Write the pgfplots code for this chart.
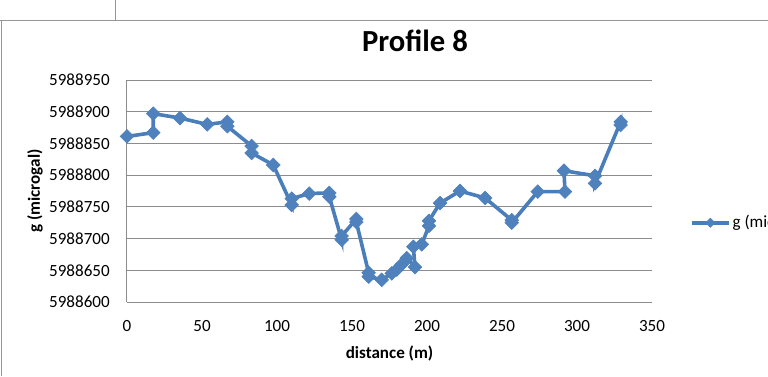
\documentclass[border=0pt]{standalone}
\usepackage{fontspec}
\setmainfont{Carlito}
\usepackage{pgfplots}
\usepackage{pgfplotstable}
\pgfplotsset{compat=1.18}
\definecolor{lineblue}{RGB}{74,126,187}
\definecolor{markblue}{RGB}{79,129,189}
\definecolor{gridgray}{RGB}{140,140,140}
\definecolor{framegray}{RGB}{150,150,150}

\pgfplotstableread{
d g
0 5988861
17.5 5988867
17.5 5988897
35.3 5988890
53.5 5988880
66.9 5988884
66.9 5988877
83.1 5988846
83.1 5988835
97.5 5988816
109.8 5988753
109.8 5988763
121.5 5988771
134.9 5988772
134.9 5988766
143.1 5988698
143.1 5988704
152.9 5988731
152.9 5988726
161.1 5988646
161.1 5988640
169.8 5988635
176.5 5988645
179.8 5988651
183.1 5988659
186.5 5988669
192.0 5988655
190.9 5988687
196.5 5988691
201.3 5988720
201.3 5988728
208.7 5988756
222.0 5988775
238.7 5988764
256.5 5988729
256.5 5988725
273.8 5988774
292.0 5988774
291.3 5988807
312.0 5988799
312.0 5988787
329.1 5988884
329.1 5988879
}\datatable
% shift by a constant offset with exact arithmetic (tick labels restore full values)
\pgfplotstablemodifyeachcolumnelement{g}\of\datatable\as\myentry{\edef\myentry{\fpeval{\myentry-5988000}}}

\begin{document}
\begin{tikzpicture}
\path[use as bounding box] (0,0) rectangle (576pt,282pt);
\clip (0,0) rectangle (576pt,282pt);
\draw[framegray, line width=0.75pt] (0,267pt) -- (576pt,267pt);
\draw[framegray, line width=0.75pt] (1.1pt,0) -- (1.1pt,267pt);
\draw[framegray, line width=0.75pt] (86.25pt,267pt) -- (86.25pt,282pt);
\begin{axis}[
  at={(95.25pt,55.5pt)}, anchor=south west,
  width=393.75pt, height=166.5pt, scale only axis,
  xmin=0, xmax=350, ymin=600, ymax=950,
  xtick={0,50,...,350}, ytick={600,650,...,950},
  yticklabels={5988600,5988650,5988700,5988750,5988800,5988850,5988900,5988950},
  axis lines*=left,
  axis line style={gridgray, line width=0.75pt},
  ymajorgrids, grid style={gridgray, line width=0.75pt},
  major tick length=0pt,
  tick label style={font=\fontsize{12.8}{15}\selectfont},
  /pgf/number format/assume math mode=true,
  yticklabel style={anchor=east, inner sep=0pt, xshift=-12.75pt},
  xticklabel style={anchor=center, inner sep=0pt, yshift=-18pt},
  title={Profile 8},
  title style={font=\fontsize{23}{27}\selectfont\bfseries, at={(axis description cs:0.5486,1.140)}, anchor=center},
  xlabel={distance (m)},
  xlabel style={font=\fontsize{12.8}{15}\selectfont\bfseries, at={(axis description cs:0.5,-0.2297)}, anchor=center},
  ylabel={g (microgal)},
  ylabel style={font=\fontsize{12.8}{15}\selectfont\bfseries, at={(axis description cs:-0.1752,0.5)}, anchor=center},
  legend style={draw=none, fill=none, at={(axis description cs:1.0724,0.357)}, anchor=west,
    inner sep=0pt, outer sep=0pt, column sep=1.5pt,
    nodes={inner sep=0pt}, font=\fontsize{12.8}{15}\selectfont},
  legend image code/.code={\draw[mark repeat=2,mark phase=2,#1,mark size=2.4pt] plot coordinates {(0pt,0pt) (13.9pt,0pt) (27.75pt,0pt)};},
  clip=false,
]
\addplot[color=lineblue, line width=2.7pt, mark=square*, mark size=3.6pt,
  mark options={rotate=45, solid, fill=markblue, draw=markblue, line width=0.5pt}]
  table[x=d, y=g] {\datatable};
\addlegendentry{g (microgal)}
\end{axis}
\end{tikzpicture}
\end{document}
